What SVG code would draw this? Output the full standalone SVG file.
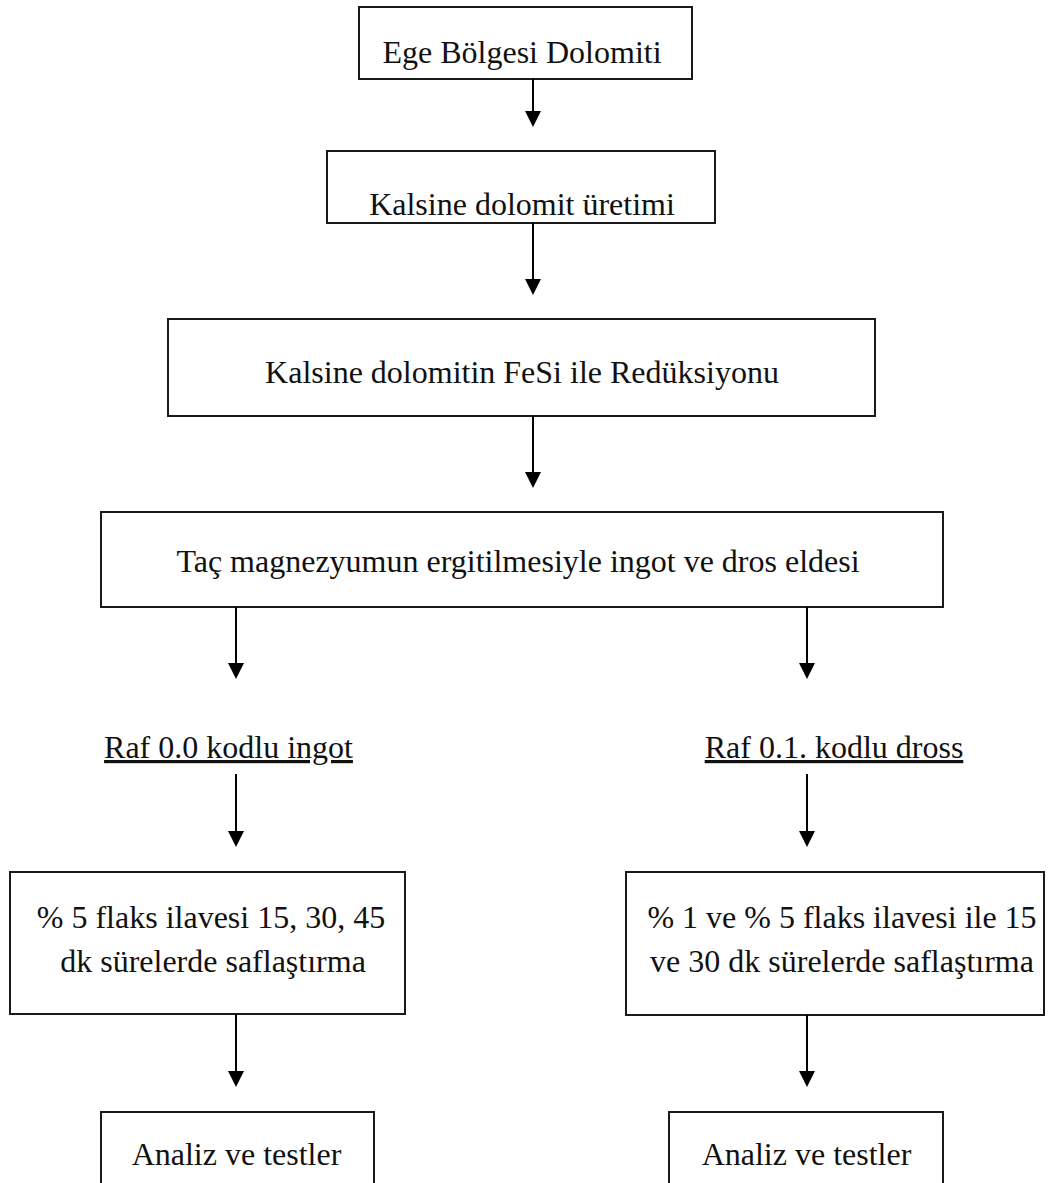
<svg xmlns="http://www.w3.org/2000/svg" width="1052" height="1183" viewBox="0 0 1052 1183">
<style>
.box{fill:#fff;stroke:#1a1a1a;stroke-width:2}
.t{font-family:"Liberation Serif","Times New Roman",serif;font-size:32px;fill:#111;text-anchor:middle}
.u{text-decoration:underline}
.c{stroke:#000;stroke-width:2;fill:none;marker-end:url(#ah)}
</style>
<defs>
<marker id="ah" markerUnits="userSpaceOnUse" viewBox="-2 -9 18 18" markerWidth="18" markerHeight="18" refX="0" refY="0" orient="auto">
<path d="M-1,-8 L15,0 L-1,8 z" fill="#000"/>
</marker>
</defs>
<rect width="1052" height="1183" fill="#fff"/>
<g id="n1"><rect class="box" x="359" y="7" width="333" height="72"/><text class="t" x="522" y="63">Ege Bölgesi Dolomiti</text></g>
<g id="n2"><rect class="box" x="327" y="151" width="388" height="72"/><text class="t" x="522" y="215">Kalsine dolomit üretimi</text></g>
<g id="n3"><rect class="box" x="168" y="319" width="707" height="97"/><text class="t" x="522" y="383">Kalsine dolomitin FeSi ile Redüksiyonu</text></g>
<g id="n4"><rect class="box" x="101" y="512" width="842" height="95"/><text class="t" x="518" y="572">Taç magnezyumun ergitilmesiyle ingot ve dros eldesi</text></g>
<g id="n5"><text class="t u" x="228.5" y="758">Raf 0.0 kodlu ingot</text></g>
<g id="n6"><text class="t u" x="834" y="758">Raf 0.1. kodlu dross</text></g>
<g id="n7"><rect class="box" x="10" y="872" width="395" height="142"/><text class="t" x="211" y="928">% 5 flaks ilavesi 15, 30, 45</text><text class="t" x="213" y="972">dk sürelerde saflaştırma</text></g>
<g id="n8"><rect class="box" x="626" y="872" width="418" height="143"/><text class="t" x="842" y="928">% 1 ve % 5 flaks ilavesi ile 15</text><text class="t" x="842" y="972">ve 30 dk sürelerde saflaştırma</text></g>
<g id="n9"><rect class="box" x="101" y="1112" width="273" height="90"/><text class="t" x="236.5" y="1165">Analiz ve testler</text></g>
<g id="n10"><rect class="box" x="669" y="1112" width="274" height="90"/><text class="t" x="806.5" y="1165">Analiz ve testler</text></g>
<g id="connectors">
<line class="c" x1="533" y1="79" x2="533" y2="112"/>
<line class="c" x1="533" y1="223" x2="533" y2="280"/>
<line class="c" x1="533" y1="416" x2="533" y2="473"/>
<line class="c" x1="236" y1="607" x2="236" y2="664"/>
<line class="c" x1="807" y1="607" x2="807" y2="664"/>
<line class="c" x1="236" y1="774" x2="236" y2="832"/>
<line class="c" x1="807" y1="774" x2="807" y2="832"/>
<line class="c" x1="236" y1="1014" x2="236" y2="1072"/>
<line class="c" x1="807" y1="1015" x2="807" y2="1072"/>
</g>
</svg>
